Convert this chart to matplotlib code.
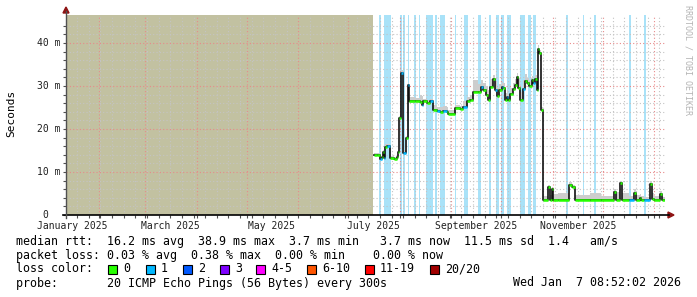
import matplotlib
matplotlib.use('Agg')
import matplotlib.pyplot as plt
import matplotlib.dates as mdates
from matplotlib.lines import Line2D
from matplotlib.patches import Polygon, Rectangle
import numpy as np
import pandas as pd

plt.rcParams['font.family'] = ['DejaVu Sans Mono']

W, H = 697, 297

# graph covers the last 360 days
end_time = pd.Timestamp('2026-01-07 08:52:02')
start_time = end_time - pd.Timedelta(days=360)
data_origin = pd.Timestamp('2025-07-01')
first_data_day = 15.0   # days after 1 July 2025 where data begins

# samples, days since 1 July 2025
sample_days = [15.2, 17.2, 18.8, 20.2, 20.8, 21.6, 22.2, 23.2, 24.8, 27.2,
               29.2, 30.2, 30.8, 31.6, 33.2, 34.8, 35.8, 36.8, 40.2, 43.2,
               44.2, 45.2, 47.2, 49.2, 51.2, 53.2, 55.2, 57.2, 59.6, 60.2,
               64.2, 67.2, 69.2, 71.2, 73.2, 75.2, 78.2, 79.6, 81.2, 82.8,
               84.2, 85.2, 86.8, 88.0, 89.2, 90.8, 92.2, 93.2, 94.2, 95.2,
               96.2, 97.2, 98.8, 100.2, 101.2, 102.2, 103.2, 104.8, 106.2, 107.2,
               108.8, 110.2, 111.2, 112.2, 113.2, 113.8, 114.8, 115.8, 117.2, 120.2,
               121.2, 122.2, 123.2, 126.0, 132.8, 134.4, 136.0, 145.0, 152.0, 159.6,
               160.8, 163.6, 164.8, 168.6, 171.6, 172.8, 175.2, 176.2, 177.6, 181.6,
               182.6, 184.0, 187.6, 188.6, 190.4]
median_ms = [14.0, 14.0, 13.0, 13.6, 14.7, 13.2, 15.9, 16.0, 13.2, 13.0,
             13.6, 14.7, 22.5, 33.1, 14.3, 17.9, 30.2, 26.4, 26.4, 26.2,
             25.6, 26.4, 26.0, 26.4, 24.4, 24.2, 24.0, 24.2, 24.0, 23.5,
             24.8, 24.6, 25.2, 26.4, 26.7, 28.7, 28.7, 29.8, 29.0, 27.9,
             26.7, 29.8, 31.6, 29.0, 27.6, 29.0, 29.8, 29.5, 26.7, 27.4,
             26.7, 28.2, 29.4, 30.2, 32.0, 29.5, 26.7, 29.4, 31.2, 30.6,
             29.9, 31.4, 30.6, 31.6, 29.1, 38.5, 37.6, 24.4, 3.6, 6.4,
             3.6, 6.0, 3.6, 3.6, 7.0, 6.6, 3.6, 3.6, 3.6, 5.4,
             3.6, 7.4, 3.6, 3.6, 5.2, 3.6, 3.9, 3.6, 3.6, 7.2,
             3.8, 3.6, 4.8, 3.6, 3.6]
smoke_top_ms = [14.5, 14.5, 13.6, 14.2, 15.2, 13.8, 16.4, 16.6, 13.8, 13.5,
                14.0, 15.2, 23.0, 33.6, 15.0, 18.4, 30.8, 27.5, 27.2, 27.8,
                27.6, 27.0, 26.8, 27.0, 25.6, 25.2, 25.0, 25.4, 25.2, 24.4,
                25.6, 25.4, 26.4, 27.4, 28.0, 31.5, 30.5, 31.5, 30.8, 30.0,
                29.0, 31.6, 32.6, 31.0, 29.5, 30.5, 31.0, 30.6, 28.4, 29.0,
                28.0, 29.5, 30.6, 31.6, 33.0, 31.8, 28.6, 31.5, 32.8, 31.8,
                31.2, 32.4, 31.6, 32.6, 30.4, 39.6, 38.4, 25.0, 4.4, 7.0,
                4.6, 6.6, 4.8, 5.0, 7.6, 7.0, 4.6, 5.2, 4.4, 6.0,
                5.4, 8.0, 5.0, 4.4, 6.0, 4.6, 4.8, 4.4, 4.2, 7.8,
                5.0, 4.4, 5.6, 4.2, 4.2]
loss_count = [0, 0, 1, 0, 0, 1, 0, 1, 0, 0,
              0, 0, 0, 1, 1, 0, 1, 0, 0, 0,
              1, 0, 0, 1, 0, 1, 0, 1, 0, 0,
              0, 0, 1, 0, 0, 0, 0, 1, 0, 0,
              0, 0, 0, 1, 0, 0, 1, 0, 0, 1,
              0, 0, 0, 0, 0, 0, 0, 1, 0, 0,
              0, 0, 1, 0, 0, 0, 0, 0, 0, 0,
              0, 0, 0, 0, 0, 0, 0, 0, 0, 0,
              0, 0, 0, 1, 0, 0, 0, 0, 1, 0,
              0, 0, 0, 0, 0]

# light blue periods, days since 1 July 2025
outage_start_days = [18.6, 21.6, 31.2, 33.0, 36.0, 39.6, 42.6, 46.8, 52.2, 55.2,
                     64.2, 69.6, 78.0, 84.6, 88.8, 91.8, 95.4, 103.2, 108.0, 111.0,
                     130.8, 141.0, 147.6, 168.6, 177.6]
outage_len_days = [1.2, 4.2, 1.2, 1.2, 0.6, 1.2, 0.6, 4.2, 1.2, 3.0,
                   0.6, 2.4, 1.8, 1.2, 1.8, 1.8, 2.4, 3.0, 1.8, 1.8,
                   1.2, 0.6, 1.2, 1.2, 1.2]

y_ticks = [0, 10, 20, 30, 40]
y_tick_labels = ['0', '10 m', '20 m', '30 m', '40 m']
label_months = ['2025-01-01', '2025-03-01', '2025-05-01', '2025-07-01',
                '2025-09-01', '2025-11-01']

loss_labels = ['0', '1', '2', '3', '4-5', '6-10', '11-19', '20/20']
loss_colors = ['#26ff00', '#00b8ff', '#0059ff', '#7e00ff', '#ff00ff',
               '#ff5500', '#ff0000', '#a10000']

legend_lines = [
    'median rtt:  16.2 ms avg  38.9 ms max  3.7 ms min   3.7 ms now  11.5 ms sd  1.4   am/s',
    'packet loss: 0.03 % avg  0.38 % max  0.00 % min    0.00 % now',
]
probe_text = 'probe:       20 ICMP Echo Pings (56 Bytes) every 300s'
stamp_text = 'Wed Jan  7 08:52:02 2026'


def fx(px):
    return px / W


def fy(py):
    return 1 - py / H


fig = plt.figure(figsize=(W / 100, H / 100), dpi=100)
ax = fig.add_axes([fx(66), fy(215), (665 - 66) / W, 200 / H])

t = mdates.date2num((data_origin + pd.to_timedelta(sample_days, unit='D')).to_pydatetime())
med = np.array(median_ms)
top = np.array(smoke_top_ms)
t0 = mdates.date2num(start_time.to_pydatetime())
t1 = mdates.date2num(end_time.to_pydatetime())
tdata = mdates.date2num((data_origin + pd.Timedelta(days=first_data_day)).to_pydatetime())

# unknown area before data begins
ax.axvspan(t0, tdata, color='#c2c1a1', lw=0, zorder=0.5)

for s, l in zip(outage_start_days, outage_len_days):
    a = mdates.date2num((data_origin + pd.Timedelta(days=s)).to_pydatetime())
    ax.axvspan(a, a + l, color='#a9e2f8', lw=0, zorder=0.6)

# smoke
ax.fill_between(t, med - 0.3, top, step='post', color='#cdcdcd', lw=0, zorder=2)

# median, coloured by loss
ax.step(t, med, where='post', color='#101010', lw=1.2, zorder=3)
ax.hlines(med[:-1], t[:-1], t[1:], colors=[loss_colors[l] for l in loss_count[:-1]],
          lw=1.8, zorder=4)

ax.set_xlim(t0, t1)
ax.set_ylim(0, 46.5)

ax.xaxis.set_major_locator(mdates.MonthLocator())
ax.xaxis.set_minor_locator(mdates.WeekdayLocator(byweekday=mdates.SU))
ax.set_xticklabels([])
ax.set_yticks(y_ticks)
ax.set_yticks(np.arange(0, 46, 2), minor=True)
ax.set_yticklabels([])
ax.tick_params(which='both', direction='out', length=2.5, width=0.8, color='#505050')

ax.grid(which='minor', color='#c4c4c4', linestyle=(0, (1, 2)), lw=0.8)
ax.grid(which='major', color='#e88a8a', linestyle=(0, (1, 2)), lw=0.8)
ax.set_axisbelow('line')
for sp in ax.spines.values():
    sp.set_visible(False)
ax.patch.set_alpha(0)

# y labels
ytr = ax.get_yaxis_transform()
for v, lab in zip(y_ticks, y_tick_labels):
    xr = -0.010 if lab != '0' else -0.030
    ax.text(xr, v, lab, transform=ytr, ha='right', va='center', fontsize=7, color='#202020')

# x labels centred in the middle of the month
xtr = ax.get_xaxis_transform()
for m in label_months:
    d = pd.Timestamp(m)
    ax.text(mdates.date2num((d + pd.Timedelta(days=15)).to_pydatetime()), -0.055,
            d.strftime('%B %Y'), transform=xtr, ha='center', va='center',
            fontsize=7, color='#202020')

# axis lines with arrows
fig.add_artist(Line2D([fx(63), fx(669)], [fy(215), fy(215)], color='#000000', lw=1.2))
fig.add_artist(Line2D([fx(66), fx(66)], [fy(218), fy(11)], color='#505050', lw=1.0))
fig.add_artist(Polygon([[fx(668), fy(212)], [fx(668), fy(218)], [fx(674), fy(215)]],
                       closed=True, color='#8e1414', transform=fig.transFigure))
fig.add_artist(Polygon([[fx(63), fy(13)], [fx(69), fy(13)], [fx(66), fy(7)]],
                       closed=True, color='#8e1414', transform=fig.transFigure))

fig.text(fx(11), fy(113.5), 'Seconds', rotation=90, ha='center', va='center', fontsize=8)
fig.text(fx(688), fy(60), 'RRDTOOL / TOBI OETIKER', rotation=270, ha='center', va='center',
         fontsize=6, color='#b4b4b4')

# legend
fig.text(fx(16), fy(241), legend_lines[0], ha='left', va='center', fontsize=8.4)
fig.text(fx(16), fy(255), legend_lines[1], ha='left', va='center', fontsize=8.4)
fig.text(fx(16), fy(269), 'loss color:', ha='left', va='center', fontsize=8.4)
box_x = [108, 146, 183, 220, 256, 307, 365, 430]
for bx, lab, c in zip(box_x, loss_labels, loss_colors):
    fig.add_artist(Rectangle((fx(bx), fy(273.5)), 9 / W, 9 / H, facecolor=c,
                             edgecolor='#000000', lw=0.8, transform=fig.transFigure))
    fig.text(fx(bx + 15), fy(269), lab, ha='left', va='center', fontsize=8.4)
fig.text(fx(16), fy(283), probe_text, ha='left', va='center', fontsize=8.4)
fig.text(fx(681), fy(283), stamp_text, ha='right', va='center', fontsize=8.4)

fig.savefig('out.png', dpi=100, facecolor='white')
